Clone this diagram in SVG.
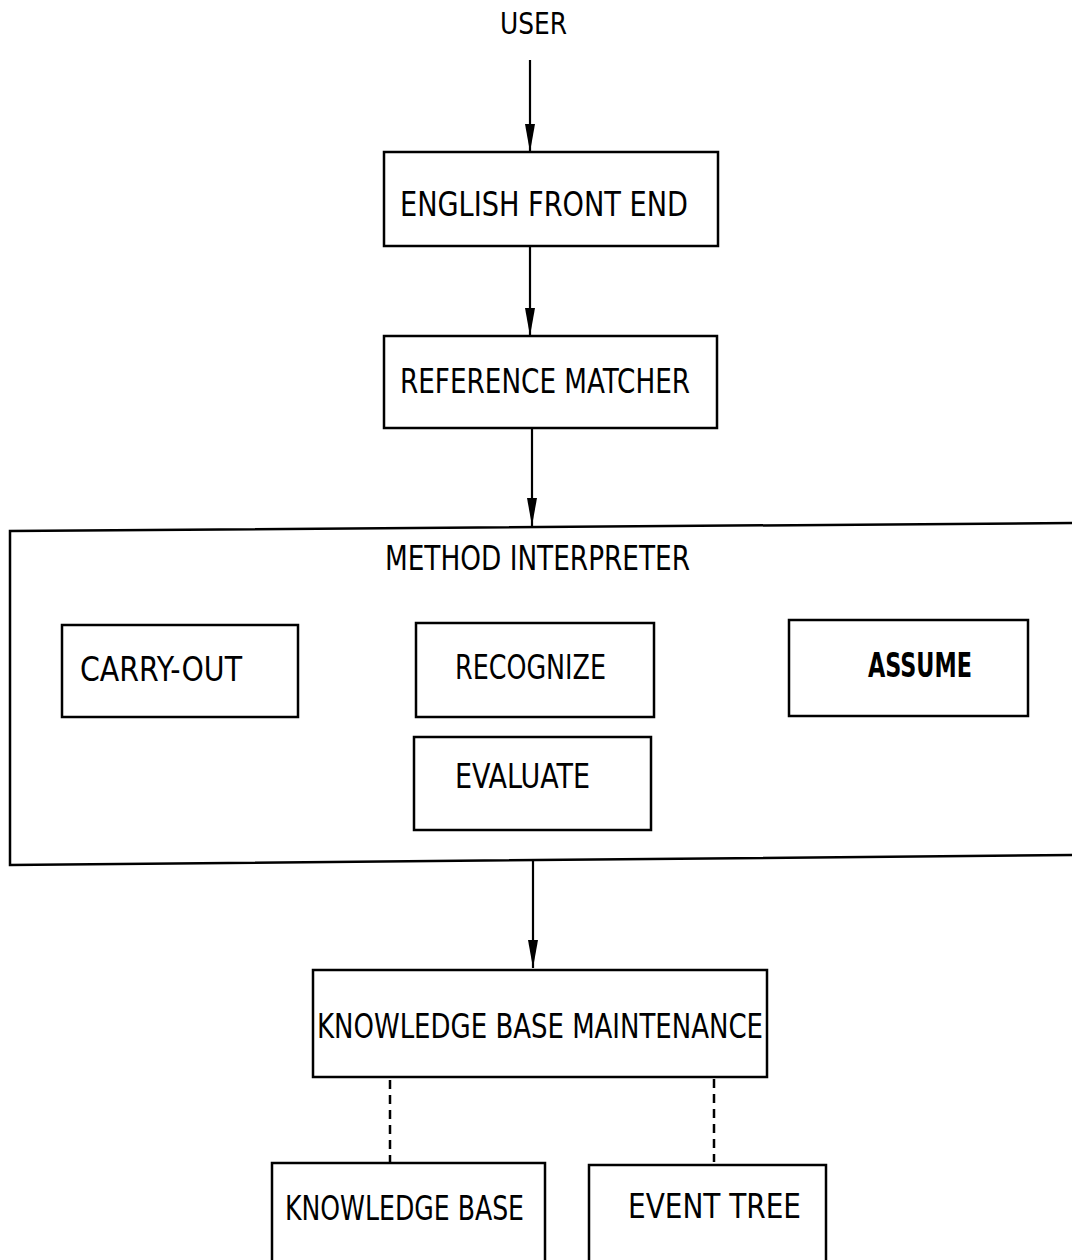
<svg xmlns="http://www.w3.org/2000/svg" width="1072" height="1260" viewBox="0 0 1072 1260">
<defs>
<marker id="ah" viewBox="0 0 28 10" refX="28" refY="5" markerWidth="28" markerHeight="10" markerUnits="userSpaceOnUse" orient="auto">
<path d="M0,0 L28,5 L0,10 z" fill="#000"/>
</marker>
</defs>
<style>
.box{fill:none;stroke:#000;stroke-width:2.5}
.t{font-family:"DejaVu Sans Condensed","DejaVu Sans","Liberation Sans",sans-serif;font-size:33px;fill:#000}
.b{font-weight:bold}
.c{stroke:#000;stroke-width:2.2;fill:none}
.d{stroke:#000;stroke-width:2.5;fill:none;stroke-dasharray:9 6}
</style>
<rect width="1072" height="1260" fill="#fff"/>
<g id="user"><text class="t" x="500" y="34" textLength="67" lengthAdjust="spacingAndGlyphs" style="font-size:30px">USER</text></g>
<g id="english-front-end"><rect class="box" x="384" y="152" width="334" height="94"/><text class="t" x="400" y="216" textLength="288" lengthAdjust="spacingAndGlyphs">ENGLISH FRONT END</text></g>
<g id="reference-matcher"><rect class="box" x="384" y="336" width="333" height="92"/><text class="t" x="400" y="393" textLength="290" lengthAdjust="spacingAndGlyphs">REFERENCE MATCHER</text></g>
<g id="method-interpreter"><path class="box" d="M1080,523 L10,531 L10,865 L1080,855"/><text class="t" x="385" y="570" textLength="305" lengthAdjust="spacingAndGlyphs">METHOD INTERPRETER</text></g>
<g id="carry-out"><rect class="box" x="62" y="625" width="236" height="92"/><text class="t" x="80" y="681" textLength="162" lengthAdjust="spacingAndGlyphs">CARRY-OUT</text></g>
<g id="recognize"><rect class="box" x="416" y="623" width="238" height="94"/><text class="t" x="455" y="679" textLength="151" lengthAdjust="spacingAndGlyphs">RECOGNIZE</text></g>
<g id="assume"><rect class="box" x="789" y="620" width="239" height="96"/><text class="t b" x="868" y="677" textLength="104" lengthAdjust="spacingAndGlyphs">ASSUME</text></g>
<g id="evaluate"><rect class="box" x="414" y="737" width="237" height="93"/><text class="t" x="455" y="788" textLength="135" lengthAdjust="spacingAndGlyphs">EVALUATE</text></g>
<g id="kb-maintenance"><rect class="box" x="313" y="970" width="454" height="107"/><text class="t" x="317" y="1038" textLength="446" lengthAdjust="spacingAndGlyphs">KNOWLEDGE BASE MAINTENANCE</text></g>
<g id="knowledge-base"><rect class="box" x="272" y="1163" width="273" height="120"/><text class="t" x="285" y="1220" textLength="239" lengthAdjust="spacingAndGlyphs">KNOWLEDGE BASE</text></g>
<g id="event-tree"><rect class="box" x="589" y="1165" width="237" height="120"/><text class="t" x="628" y="1218" textLength="173" lengthAdjust="spacingAndGlyphs">EVENT TREE</text></g>
<g id="connectors">
<line class="c" x1="530" y1="60" x2="530" y2="152" marker-end="url(#ah)"/>
<line class="c" x1="530" y1="246" x2="530" y2="336" marker-end="url(#ah)"/>
<line class="c" x1="532" y1="428" x2="532" y2="526" marker-end="url(#ah)"/>
<line class="c" x1="533" y1="860" x2="533" y2="968" marker-end="url(#ah)"/>
<line class="d" x1="390" y1="1080" x2="390" y2="1162"/>
<line class="d" x1="714" y1="1079" x2="714" y2="1162"/>
</g>
</svg>
